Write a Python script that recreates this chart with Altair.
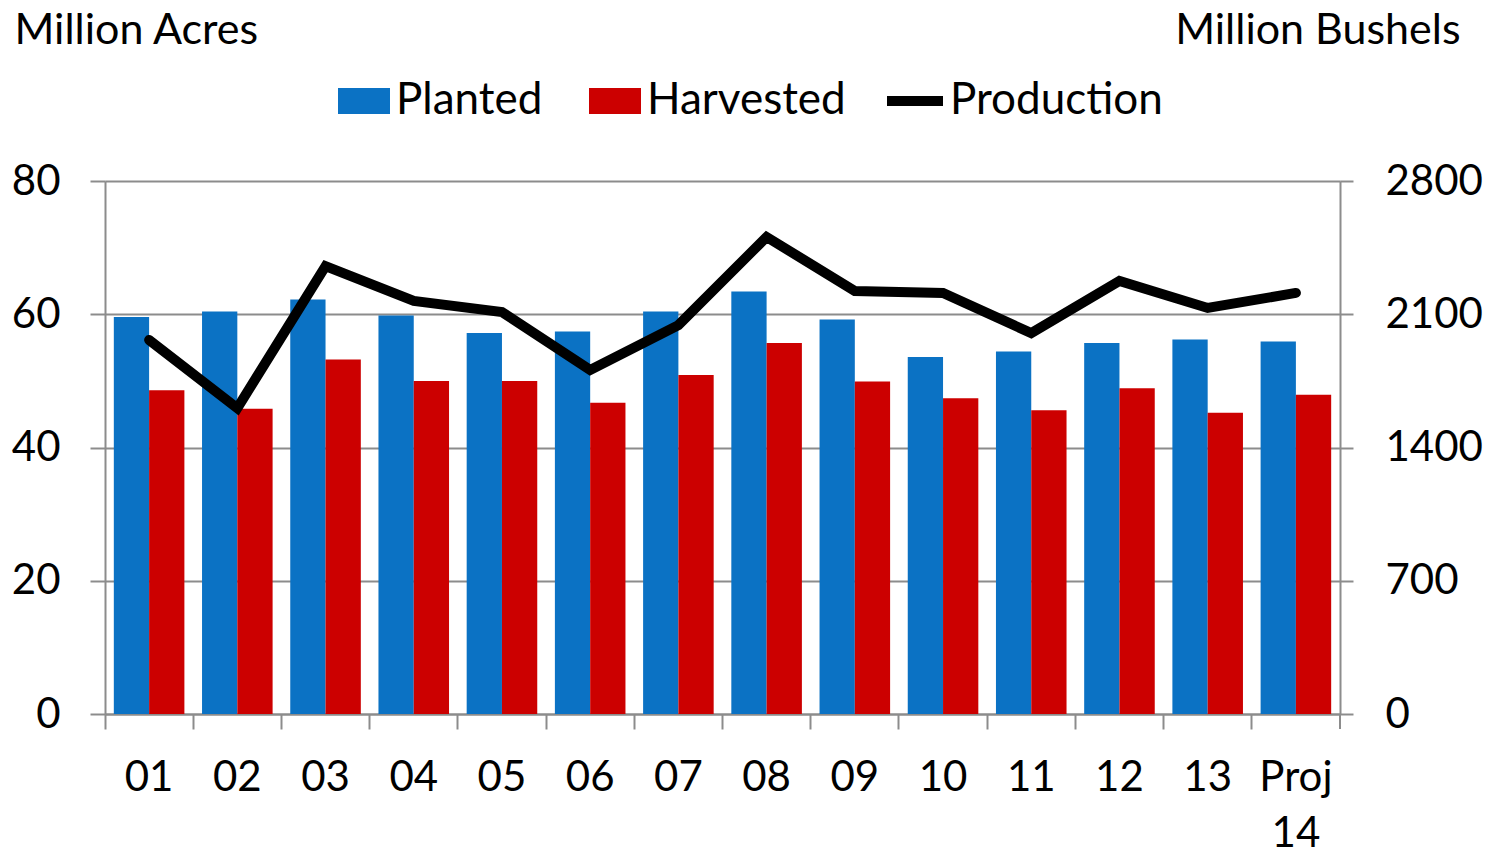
import altair as alt
import pandas as pd

years = ["01", "02", "03", "04", "05", "06", "07", "08", "09", "10", "11", "12", "13", "Proj 14"]
planted = [59.6, 60.4, 62.2, 59.8, 57.2, 57.4, 60.4, 63.4, 59.2, 53.6, 54.4, 55.7, 56.2, 55.9]
harvested = [48.6, 45.8, 53.2, 50.0, 50.0, 46.7, 50.9, 55.7, 49.9, 47.4, 45.6, 48.9, 45.2, 47.9]
production = [1965, 1607, 2353, 2170, 2112, 1807, 2043, 2506, 2222, 2212, 2001, 2275, 2133, 2212]

series = ["Planted", "Harvested"]
colors = ["#0b72c4", "#cc0000"]

bars = pd.DataFrame(
    [{"year": y, "series": "Planted", "acres": v} for y, v in zip(years, planted)]
    + [{"year": y, "series": "Harvested", "acres": v} for y, v in zip(years, harvested)]
)
line = pd.DataFrame({"year": years, "bushels": production, "s": ["Production"] * len(years)})

FONT = "Lato"
GRAY = "#8c8c8c"
W, H = 1235, 533

x_enc = alt.X(
    "year:N",
    sort=years,
    scale=alt.Scale(paddingInner=0, paddingOuter=0),
    axis=alt.Axis(
        title=None, bandPosition=0, labelAngle=0,
        labelExpr="split(datum.value, ' ')", labelLineHeight=56,
        labelFontSize=42, labelFont=FONT, labelColor="black", labelPadding=28,
        tickColor=GRAY, tickWidth=2, tickSize=15, domainColor=GRAY, domainWidth=2,
        labelLimit=300,
    ),
)

bar_layer = alt.Chart(bars).mark_bar().encode(
    x=x_enc,
    xOffset=alt.XOffset("series:N", sort=series, scale=alt.Scale(paddingInner=0, paddingOuter=0.25)),
    y=alt.Y(
        "acres:Q",
        scale=alt.Scale(domain=[0, 80], nice=False),
        axis=alt.Axis(
            values=[0, 20, 40, 60, 80], title="Million Acres", titleAngle=0,
            titleX=-91, titleY=-151, titleAlign="left", titleBaseline="middle",
            titleFont=FONT, titleFontSize=43, titleFontWeight="normal", titleColor="black",
            labelFont=FONT, labelFontSize=42, labelColor="black", labelPadding=30,
            tickColor=GRAY, tickWidth=2, tickSize=15, domainColor=GRAY, domainWidth=2,
            grid=True, gridColor=GRAY, gridWidth=2,
        ),
    ),
    color=alt.Color(
        "series:N",
        sort=series,
        scale=alt.Scale(domain=series, range=colors),
        legend=alt.Legend(
            orient="none", legendX=233, legendY=-106, direction="horizontal", title=None,
            symbolType="M-1,-0.5H1V0.5H-1Z", symbolSize=2704, symbolStrokeWidth=0,
            labelFont=FONT, labelFontSize=44, labelColor="black", labelOffset=6,
            columnPadding=46, labelLimit=400, padding=0,
        ),
    ),
)

line_layer = alt.Chart(line).mark_line(strokeWidth=10, strokeCap="round", strokeJoin="miter").encode(
    x=alt.X("year:N", sort=years),
    y=alt.Y(
        "bushels:Q",
        scale=alt.Scale(domain=[0, 2800], nice=False),
        axis=alt.Axis(
            orient="right", values=[0, 700, 1400, 2100, 2800], format="d", title="Million Bushels",
            titleAngle=0, titleX=120, titleY=-151, titleAlign="right", titleBaseline="middle",
            titleFont=FONT, titleFontSize=43, titleFontWeight="normal", titleColor="black",
            labelFont=FONT, labelFontSize=42, labelColor="black", labelPadding=32,
            tickColor=GRAY, tickWidth=2, tickSize=13, domainColor=GRAY, domainWidth=2,
            grid=False,
        ),
    ),
    stroke=alt.Stroke(
        "s:N",
        scale=alt.Scale(domain=["Production"], range=["black"]),
        legend=alt.Legend(
            orient="none", legendX=777, legendY=-113, title=None,
            symbolType="stroke", symbolStrokeWidth=10, symbolSize=3136,
            labelFont=FONT, labelFontSize=44, labelColor="black", labelOffset=2,
            labelLimit=400, padding=0,
        ),
    ),
)

end_tick = alt.Chart(pd.DataFrame({"k": [0]})).mark_rule(color=GRAY, strokeWidth=2).encode(
    x=alt.value(W), y=alt.value(H), y2=alt.value(H + 15)
)

chart = (
    alt.layer(bar_layer, line_layer, end_tick)
    .resolve_scale(y="independent", color="independent", stroke="independent")
    .properties(
        width=W, height=H,
        autosize=alt.AutoSizeParams(type="none"),
        padding={"left": 97, "top": 173, "right": 150, "bottom": 138},
    )
    .configure_view(stroke=None)
    .configure(background="white")
)

chart.save("out.html", embed_options={"renderer": "svg", "actions": False})
